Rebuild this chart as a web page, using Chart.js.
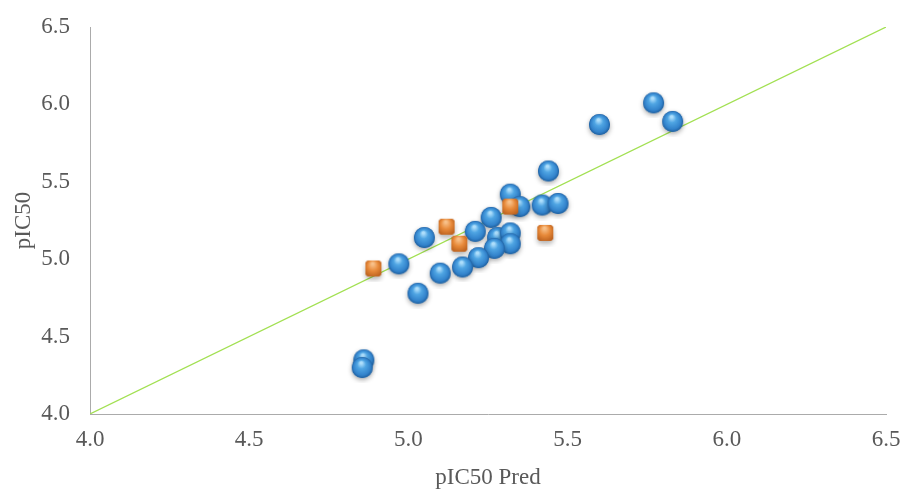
<!DOCTYPE html>
<html>
<head>
<meta charset="utf-8">
<script src="https://cdn.jsdelivr.net/npm/chart.js@4"></script>
<style>
  html, body { margin: 0; padding: 0; background: #fff; }
  #wrap { width: 905px; height: 490px; }
</style>
</head>
<body>
<div id="wrap"><canvas id="scatterChart" width="905" height="490"></canvas></div>
<script>
// training set (blue spheres)
const trainPred = [5.77, 5.83, 5.60, 5.44, 5.32, 5.35, 5.42, 5.47, 5.26, 5.21, 5.05, 5.28, 5.32, 5.32, 5.27, 4.97, 5.22, 5.17, 5.10, 5.03, 4.86, 4.855];
const trainObs  = [6.01, 5.89, 5.87, 5.57, 5.42, 5.34, 5.35, 5.36, 5.27, 5.18, 5.14, 5.14, 5.17, 5.10, 5.07, 4.97, 5.01, 4.95, 4.91, 4.78, 4.35, 4.30];
// test set (orange cubes)
const testPred = [5.32, 5.12, 5.16, 5.43, 4.89];
const testObs  = [5.34, 5.21, 5.10, 5.17, 4.94];
const ticks = [4.0, 4.5, 5.0, 5.5, 6.0, 6.5];

function sphere(r) {
  const c = document.createElement('canvas');
  const s = r * 2 + 10;
  c.width = s; c.height = s;
  const g = c.getContext('2d');
  const cx = s / 2, cy = s / 2;
  // soft shadow
  g.save();
  g.shadowColor = 'rgba(0,0,0,0.35)';
  g.shadowBlur = 5;
  g.shadowOffsetY = 2;
  g.beginPath(); g.arc(cx, cy, r, 0, Math.PI * 2);
  g.fillStyle = '#2f76bd'; g.fill();
  g.restore();
  const grad = g.createRadialGradient(cx - r * 0.1, cy - r * 0.45, r * 0.1, cx, cy, r);
  grad.addColorStop(0, '#afdffc');
  grad.addColorStop(0.35, '#4fa5e3');
  grad.addColorStop(0.8, '#3282cb');
  grad.addColorStop(1, '#1f609f');
  g.beginPath(); g.arc(cx, cy, r, 0, Math.PI * 2);
  g.fillStyle = grad; g.fill();
  return c;
}

function cube(w) {
  const c = document.createElement('canvas');
  const s = w + 12;
  c.width = s; c.height = s;
  const g = c.getContext('2d');
  const x0 = (s - w) / 2, y0 = (s - w) / 2, rr = 4;
  const path = () => {
    g.beginPath();
    g.moveTo(x0 + rr, y0);
    g.arcTo(x0 + w, y0, x0 + w, y0 + w, rr);
    g.arcTo(x0 + w, y0 + w, x0, y0 + w, rr);
    g.arcTo(x0, y0 + w, x0, y0, rr);
    g.arcTo(x0, y0, x0 + w, y0, rr);
    g.closePath();
  };
  g.save();
  g.shadowColor = 'rgba(0,0,0,0.3)';
  g.shadowBlur = 5;
  g.shadowOffsetY = 3;
  path(); g.fillStyle = '#c8661c'; g.fill();
  g.restore();
  const grad = g.createRadialGradient(x0 + w * 0.45, y0 + w * 0.2, 1, x0 + w / 2, y0 + w / 2, w * 0.75);
  grad.addColorStop(0, '#f8c18a');
  grad.addColorStop(0.4, '#e88a3a');
  grad.addColorStop(1, '#a84f12');
  path(); g.fillStyle = grad; g.fill();
  return c;
}

const toPts = (xs, ys) => xs.map((x, i) => ({ x: x, y: ys[i] }));

document.addEventListener('DOMContentLoaded', () => {
  const tickFont = { family: "'Liberation Serif', 'Times New Roman', serif", size: 23 };
  new Chart(document.getElementById('scatterChart'), {
    type: 'scatter',
    data: {
      datasets: [{
        type: 'line',
        label: 'Fit',
        data: [{ x: ticks[0], y: ticks[0] }, { x: ticks[ticks.length - 1], y: ticks[ticks.length - 1] }],
        borderColor: '#a2e052',
        borderWidth: 1.2,
        pointRadius: 0,
        fill: false,
        order: 3
      }, {
        label: 'Training',
        data: toPts(trainPred, trainObs),
        pointStyle: sphere(10.5),
        order: 2
      }, {
        label: 'Test',
        data: toPts(testPred, testObs),
        pointStyle: cube(16),
        order: 1
      }]
    },
    options: {
      responsive: false,
      animation: false,
      layout: { padding: { top: 27, right: 19, left: 0, bottom: 0 } },
      plugins: { legend: { display: false }, tooltip: { enabled: false } },
      scales: {
        x: {
          type: 'linear', min: 4, max: 6.5,
          afterBuildTicks: a => { a.ticks = ticks.map(v => ({ value: v })); },
          afterFit: a => { a.height = 76; a.paddingLeft = 0; a.paddingRight = 0; },
          grid: { display: false, drawTicks: false },
          border: { color: '#ababab', width: 1 },
          ticks: { color: '#595959', font: tickFont, padding: 12, callback: v => v.toFixed(1), maxRotation: 0 },
          title: { display: true, text: 'pIC50 Pred', color: '#595959', font: tickFont, padding: { top: 0, bottom: -2 } }
        },
        y: {
          type: 'linear', min: 4, max: 6.5,
          afterBuildTicks: a => { a.ticks = ticks.map(v => ({ value: v })); },
          afterFit: a => { a.width = 90; a.paddingTop = 0; a.paddingBottom = 0; },
          grid: { display: false, drawTicks: false },
          border: { color: '#ababab', width: 1 },
          ticks: { color: '#595959', font: tickFont, padding: 20, callback: v => v.toFixed(1) },
          title: { display: true, text: 'pIC50', color: '#595959', font: tickFont, padding: { top: 10, bottom: 0 } }
        }
      }
    }
  });
});
</script>
</body>
</html>
